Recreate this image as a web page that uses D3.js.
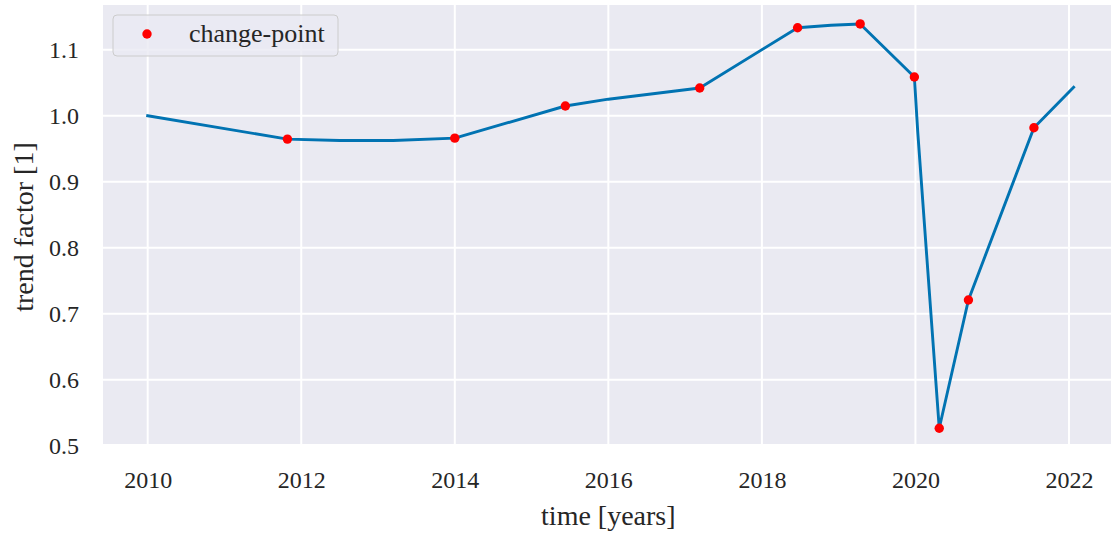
<!DOCTYPE html>
<html>
<head>
<meta charset="utf-8">
<script src="https://cdn.jsdelivr.net/npm/d3@7"></script>
<style>
  body { margin: 0; background: #ffffff; }
  svg text { font-family: "Liberation Serif", "DejaVu Serif", serif; fill: #262626; }
</style>
</head>
<body>
<script>
// tendencia (linea azul)
const trendYears  = [2010, 2011.82, 2012.5, 2013.2, 2014.0, 2015.44, 2016.0, 2017.19, 2018.465, 2018.9, 2019.28, 2019.986, 2020.03, 2020.31, 2020.69, 2021.543, 2022.06]
const trendValues = [1.0, 0.9645, 0.9625, 0.9625, 0.966, 1.0147, 1.025, 1.042, 1.1333, 1.137, 1.139, 1.0586, 0.975, 0.5264, 0.7208, 0.9818, 1.043]

// puntos de cambio (rojos)
const changeYears  = [2011.82, 2014.0, 2015.44, 2017.19, 2018.465, 2019.28, 2019.986, 2020.31, 2020.69, 2021.543]
const changeValues = [0.9645, 0.966, 1.0147, 1.042, 1.1333, 1.139, 1.0586, 0.5264, 0.7208, 0.9818]

const xTicks = [2010, 2012, 2014, 2016, 2018, 2020, 2022]
const yTicks = [0.5, 0.6, 0.7, 0.8, 0.9, 1.0, 1.1]
const legendLabel = "change-point"
const xLabel = "time [years]"
const yLabel = "trend factor [1]"

var margin = { top: 5, right: 0, bottom: 92, left: 103 }
var width = 1111 - margin.left - margin.right
var height = 536 - margin.top - margin.bottom

var svg = d3.select("body")
    .append("svg")
        .attr("width", 1111)
        .attr("height", 536)
var g = svg.append("g")
        .attr("transform", "translate(" + margin.left + "," + margin.top + ")")

//EJE X
var x = d3.scaleLinear()
    .domain([2009.418, 2022.547])
    .range([0, width])

//EJE Y
var y = d3.scaleLinear()
    .domain([0.5026, 1.1677])
    .range([height, 0])

// fondo
g.append("rect")
    .attr("width", width)
    .attr("height", height)
    .attr("fill", "#EAEAF2")

// rejilla
g.append("g")
    .selectAll("line")
    .data(xTicks)
    .join("line")
        .attr("x1", d => x(d)).attr("x2", d => x(d))
        .attr("y1", 0).attr("y2", height)
        .attr("stroke", "#ffffff")
        .attr("stroke-width", 2)
g.append("g")
    .selectAll("line")
    .data(yTicks)
    .join("line")
        .attr("x1", 0).attr("x2", width)
        .attr("y1", d => y(d)).attr("y2", d => y(d))
        .attr("stroke", "#ffffff")
        .attr("stroke-width", 2)

// ejes
var ejeX = g.append("g")
    .attr("font-family", null)
    .call(d3.axisBottom(x).tickValues(xTicks).tickSize(0).tickPadding(0).tickFormat(d3.format("d")))
    .attr("transform", "translate(0," + height + ")")
ejeX.select(".domain").remove()
ejeX.selectAll("text")
    .attr("font-size", 24)
    .attr("y", 44)
    .attr("dy", 0)

var ejeY = g.append("g")
    .call(d3.axisLeft(y).tickValues(yTicks).tickSize(0).tickFormat(d3.format(".1f")))
ejeY.select(".domain").remove()
ejeY.selectAll("text")
    .attr("font-size", 24)
    .attr("x", -24)
    .attr("dy", "0.33em")

ejeX.attr("font-family", null)
ejeY.attr("font-family", null)

// linea
const linea = d3.line()
    .x((d, i) => x(trendYears[i]))
    .y(d => y(d))

g.append("path")
    .datum(trendValues)
    .attr("fill", "none")
    .attr("stroke", "#0173B2")
    .attr("stroke-width", 2.9)
    .attr("stroke-linejoin", "round")
    .attr("stroke-linecap", "square")
    .attr("d", linea)

// puntos
g.append("g")
    .selectAll("circle")
    .data(changeValues)
    .join("circle")
        .attr("cx", (d, i) => x(changeYears[i]))
        .attr("cy", d => y(d))
        .attr("r", 4.7)
        .attr("fill", "#FF0000")

// etiquetas de ejes
svg.append("text")
    .attr("x", margin.left + x(2016))
    .attr("y", 525)
    .attr("text-anchor", "middle")
    .attr("font-size", 28)
    .text(xLabel)

svg.append("text")
    .attr("transform", "translate(33," + 227 + ") rotate(-90)")
    .attr("text-anchor", "middle")
    .attr("font-size", 28)
    .text(yLabel)

// leyenda
var leyenda = svg.append("g")
    .attr("transform", "translate(113,15)")
leyenda.append("rect")
    .attr("width", 225)
    .attr("height", 41)
    .attr("rx", 4)
    .attr("fill", "#EAEAF2")
    .attr("fill-opacity", 0.8)
    .attr("stroke", "#CCCCCC")
    .attr("stroke-width", 1)
leyenda.append("circle")
    .attr("cx", 34)
    .attr("cy", 19)
    .attr("r", 4.7)
    .attr("fill", "#FF0000")
leyenda.append("text")
    .attr("x", 76)
    .attr("y", 27)
    .attr("font-size", 26)
    .text(legendLabel)
</script>
</body>
</html>
